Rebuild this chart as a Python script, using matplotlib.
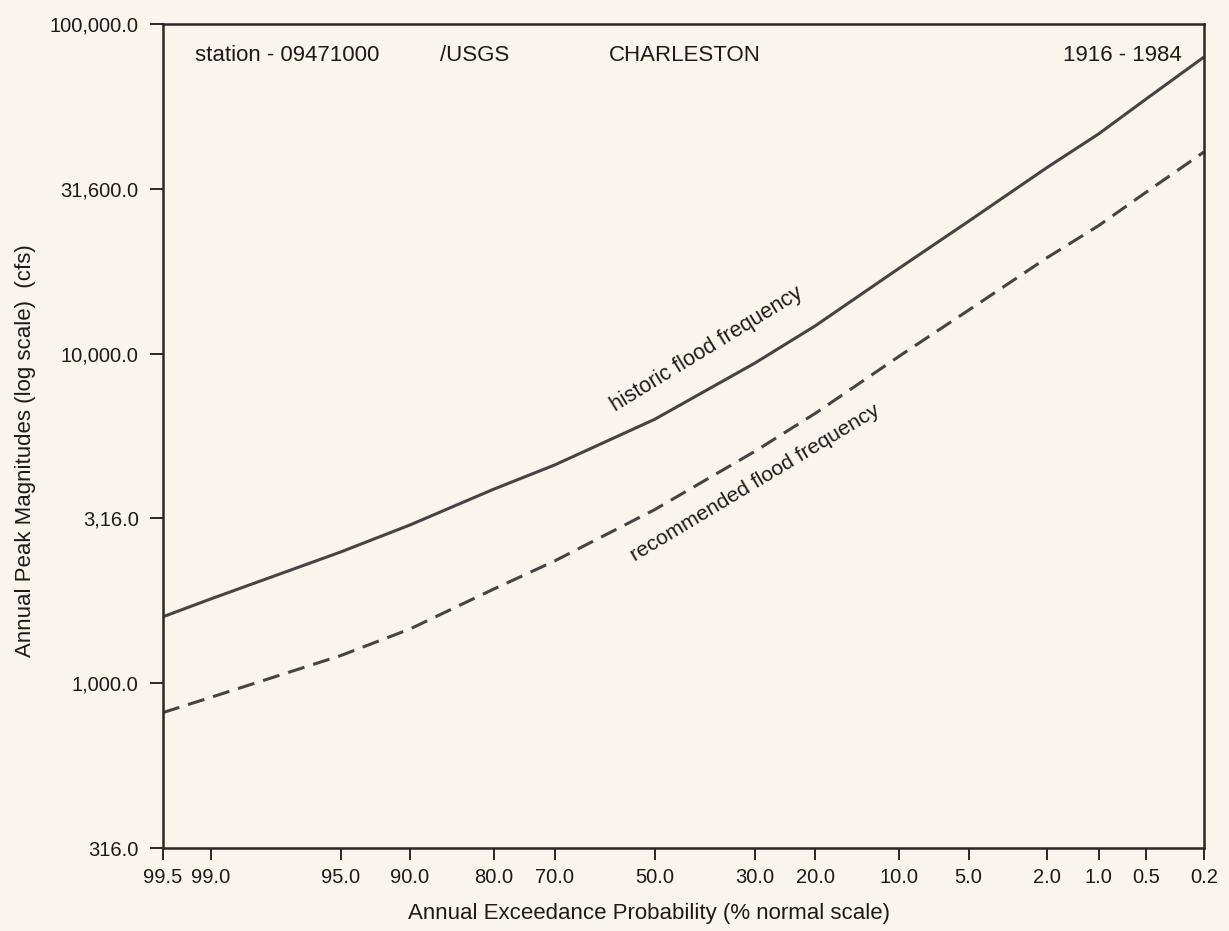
import numpy as np
import matplotlib
matplotlib.use("Agg")
import matplotlib.pyplot as plt
from matplotlib.ticker import FixedLocator, NullLocator
from statistics import NormalDist

# Annual exceedance probability (%) at the plotted points / tick positions
exceedance_pct = [99.5, 99.0, 95.0, 90.0, 80.0, 70.0, 50.0, 30.0, 20.0,
                  10.0, 5.0, 2.0, 1.0, 0.5, 0.2]
x_tick_labels = ["99.5", "99.0", "95.0", "90.0", "80.0", "70.0", "50.0",
                 "30.0", "20.0", "10.0", "5.0", "2.0", "1.0", "0.5", "0.2"]

# Annual peak discharge (cfs)
historic_cfs = [1590, 1800, 2500, 3020, 3880, 4590, 6316, 9350, 12140,
                18160, 25200, 36620, 46410, 59270, 79400]
recommended_cfs = [814, 905, 1212, 1460, 1931, 2347, 3360, 5047, 6585,
                   9820, 13540, 19500, 24450, 30900, 40900]

y_ticks = [316, 1000, 3160, 10000, 31600, 100000]
y_tick_labels = ["316.0", "1,000.0", "3,16.0", "10,000.0", "31,600.0", "100,000.0"]

INK = "#2e2626"
CURVE = "#4a4242"
TEXT = "#1e1a1a"
PAPER = "#f7f5ec"

plt.rcParams["font.family"] = ["Liberation Sans", "DejaVu Sans"]

_nd = NormalDist()
_inv = np.vectorize(lambda q: _nd.inv_cdf(q), otypes=[float])
_cdf = np.vectorize(lambda z: _nd.cdf(z), otypes=[float])


def prob_forward(p):
    # exceedance percent -> standard normal deviate (increasing in p)
    q = np.clip(np.asarray(p, dtype=float), 1e-9, 100 - 1e-9) / 100.0
    return _inv(q)


def prob_inverse(z):
    return 100.0 * _cdf(np.asarray(z, dtype=float))


fig = plt.figure(figsize=(12.29, 9.31), dpi=100, facecolor=PAPER)
W, H = 1229, 931
left, right, top, bottom = 163, 1204, 24, 848
ax = fig.add_axes([left / W, 1 - bottom / H, (right - left) / W, (bottom - top) / H])
ax.set_facecolor(PAPER)

ax.set_xscale("function", functions=(prob_forward, prob_inverse))
ax.set_yscale("log")
ax.set_xlim(99.5, 0.2)
ax.set_ylim(316, 100000)

ax.plot(exceedance_pct, historic_cfs, color=CURVE, lw=2.2,
        solid_capstyle="butt", solid_joinstyle="round")
ax.plot(exceedance_pct, recommended_cfs, color=CURVE, lw=2.2,
        linestyle=(0, (5.6, 3.0)), dash_capstyle="butt")

ax.xaxis.set_major_locator(FixedLocator(exceedance_pct))
ax.set_xticklabels(x_tick_labels)
ax.xaxis.set_minor_locator(NullLocator())
ax.yaxis.set_major_locator(FixedLocator(y_ticks))
ax.set_yticklabels(y_tick_labels)
ax.yaxis.set_minor_locator(NullLocator())

for s in ax.spines.values():
    s.set_color(INK)
    s.set_linewidth(1.8)

ax.tick_params(axis="y", direction="out", length=9.5, width=1.4, color=INK,
               labelsize=14.5, labelcolor=TEXT, pad=8)
ax.tick_params(axis="x", direction="out", length=8.5, width=1.4, color=INK,
               labelsize=14.5, labelcolor=TEXT, pad=6)

# Header line inside the plot
hdr = dict(transform=ax.transAxes, fontsize=16, color=TEXT, va="center")
ax.text(0.0307, 0.962, "station - 09471000", ha="left", **hdr)
ax.text(0.266, 0.962, "/USGS", ha="left", **hdr)
ax.text(0.4284, 0.962, "CHARLESTON", ha="left", **hdr)
ax.text(0.979, 0.962, "1916 - 1984", ha="right", **hdr)

# Curve labels
ax.text(0.522, 0.6056, "historic flood frequency", transform=ax.transAxes,
        rotation=31.5, rotation_mode="anchor", ha="center", va="center",
        fontsize=15.5, color=TEXT)
ax.text(0.569, 0.4436, "recommended flood frequency", transform=ax.transAxes,
        rotation=31, rotation_mode="anchor", ha="center", va="center",
        fontsize=15.3, color=TEXT)

# Axis titles
fig.text(649 / W, 1 - 914 / H, "Annual Exceedance Probability (% normal scale)",
         ha="center", va="center", fontsize=16, color=TEXT)
fig.text(26 / W, 1 - 451 / H, "Annual Peak Magnitudes (log scale)  (cfs)",
         ha="center", va="center", rotation=90, fontsize=16, color=TEXT)

fig.savefig("out.png", dpi=100, facecolor=PAPER)
